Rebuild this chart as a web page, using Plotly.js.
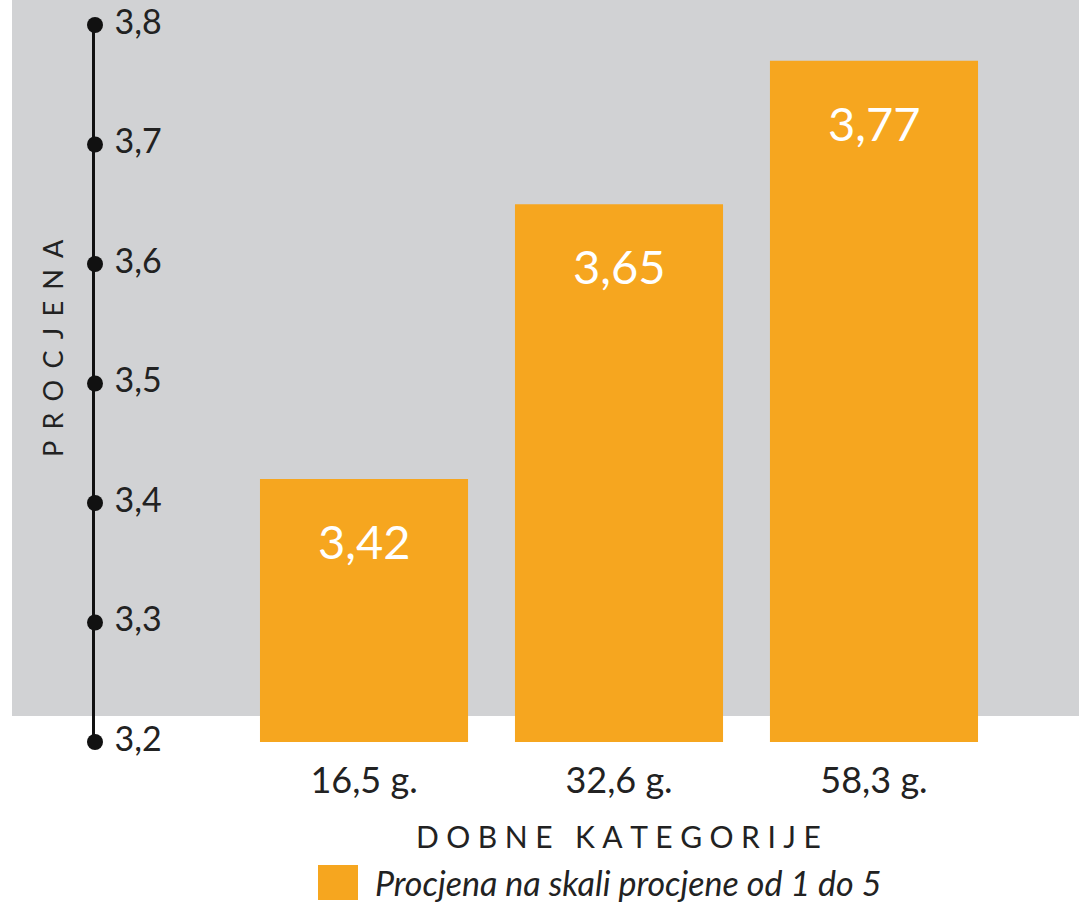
<!DOCTYPE html>
<html>
<head>
<meta charset="utf-8">
<script src="https://cdn.plot.ly/plotly-3.0.1.min.js"></script>
<style>html,body{margin:0;padding:0;background:#fff;}#chart{width:1079px;height:904px;}</style>
</head>
<body>
<div id="chart"></div>
<script>
const categories = ["16,5 g.", "32,6 g.", "58,3 g."];
const values = [3.42, 3.65, 3.77];
const valueLabels = ["3,42", "3,65", "3,77"];
const yTicks = [3.2, 3.3, 3.4, 3.5, 3.6, 3.7, 3.8];
const yTickLabels = ["3,2", "3,3", "3,4", "3,5", "3,6", "3,7", "3,8"];
const legendLabel = "Procjena na skali procjene od 1 do 5";
const xTitle = "DOBNE KATEGORIJE";
const yTitle = "PROCJENA";

function spaced(s, gap, wordGap) {
  return s.split(" ").map(w => w.split("").join(gap)).join(wordGap);
}

const orange = "#F6A61F";
const gray = "#D1D2D4";
const xRange = [-1.055, 2.804];

const bars = {
  type: "bar",
  x: [0, 1, 2],
  y: values,
  base: 0,
  width: 0.816,
  marker: {color: orange},
  hoverinfo: "skip",
  showlegend: false
};
const dots = {
  type: "scatter",
  mode: "markers+text",
  x: yTicks.map(() => xRange[0]),
  y: yTicks,
  text: yTickLabels.map(t => "\u2005" + t),
  textposition: "middle right",
  textfont: {family: "Lato, sans-serif", size: 34, color: "#222"},
  marker: {color: "#111", size: 16},
  cliponaxis: false,
  hoverinfo: "skip",
  showlegend: false
};

const annotations = values.map((v, i) => ({
  x: i, y: v, xref: "x", yref: "y",
  text: valueLabels[i], showarrow: false,
  yanchor: "middle", yshift: -62,
  font: {family: "Lato, sans-serif", size: 47, color: "#ffffff"}
}));
annotations.push({
  xref: "paper", yref: "paper", x: (618-95)/984, y: (742-836)/717,
  text: spaced(xTitle, "\u2005", "\u2002\u2005"), showarrow: false, xanchor: "center", yanchor: "middle",
  font: {family: "Lato, sans-serif", size: 30, color: "#222"}
});
annotations.push({
  xref: "paper", yref: "paper", x: (52-95)/984, y: (742-348)/717,
  text: spaced(yTitle, "\u2005\u2006", ""), showarrow: false, textangle: -90, xanchor: "center", yanchor: "middle",
  font: {family: "Lato, sans-serif", size: 27, color: "#222"}
});
annotations.push({
  xref: "paper", yref: "paper", x: (373-95)/984, y: (742-882)/717,
  text: "<i>" + legendLabel + "</i>", showarrow: false, xanchor: "left", yanchor: "middle",
  font: {family: "Lato, sans-serif", size: 34, color: "#222"}
});

const layout = {
  width: 1079, height: 904,
  margin: {l: 95, r: 0, t: 25, b: 162, pad: 0},
  paper_bgcolor: "#ffffff",
  plot_bgcolor: "rgba(0,0,0,0)",
  showlegend: false,
  xaxis: {
    range: xRange,
    tickvals: [0, 1, 2],
    ticktext: categories,
    ticks: "",
    showline: false,
    showgrid: false,
    zeroline: false,
    ticklabelstandoff: 14,
    tickfont: {family: "Lato, sans-serif", size: 36, color: "#222"}
  },
  yaxis: {
    range: [3.2, 3.8],
    showticklabels: false,
    ticks: "",
    showline: true,
    linecolor: "#111",
    linewidth: 3,
    showgrid: false,
    zeroline: false
  },
  shapes: [
    {type: "rect", xref: "paper", yref: "paper", layer: "below",
     x0: (12-95)/984, x1: 1.01, y0: (742-716)/717, y1: 1 + 30/717,
     fillcolor: gray, line: {width: 0}},
    {type: "rect", xref: "paper", yref: "paper",
     x0: (318-95)/984, x1: (358-95)/984, y0: (742-900)/717, y1: (742-865)/717,
     fillcolor: orange, line: {width: 0}}
  ],
  annotations: annotations
};

Plotly.newPlot("chart", [bars, dots], layout, {displayModeBar: false, staticPlot: true});
</script>
</body>
</html>
